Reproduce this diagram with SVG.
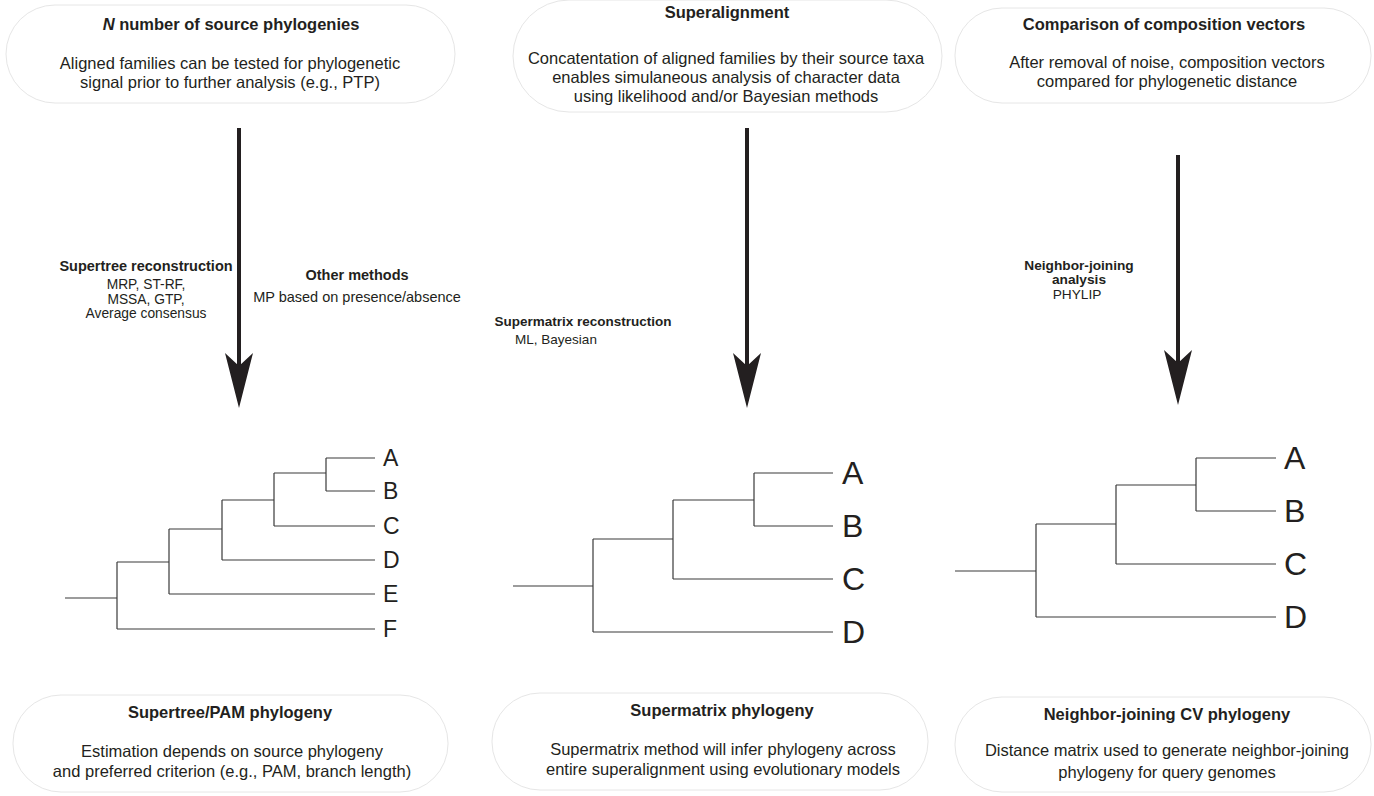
<svg xmlns="http://www.w3.org/2000/svg" width="1374" height="796" viewBox="0 0 1374 796">
<style>
  .pill { fill: #ffffff; stroke: #e6e6e6; stroke-width: 1; }
  .title { font-family: "Liberation Sans", Arial, sans-serif; font-weight: bold; font-size: 16.5px; fill: #231f20; text-anchor: middle; }
  .body { font-family: "Liberation Sans", Arial, sans-serif; font-size: 16.5px; fill: #231f20; text-anchor: middle; }
  .lbl { font-family: "Liberation Sans", Arial, sans-serif; font-weight: bold; font-size: 14.5px; fill: #231f20; text-anchor: middle; }
  .lblr { font-family: "Liberation Sans", Arial, sans-serif; font-size: 14.5px; fill: #231f20; text-anchor: middle; }
  .arrow { stroke: #231f20; stroke-width: 4; fill: none; marker-end: url(#head); }
  .branch { stroke: #3a3a3a; stroke-width: 1.2; fill: none; }
  .taxon { font-family: "Liberation Sans", Arial, sans-serif; fill: #231f20; }
</style>
<defs>
  <marker id="head" markerUnits="userSpaceOnUse" viewBox="0 0 55 28" refX="13" refY="14" markerWidth="55" markerHeight="28" orient="auto">
    <path d="M0,0 L55,14 L0,28 L13,14 Z" fill="#231f20"/>
  </marker>
</defs>
<rect width="1374" height="796" fill="#ffffff"/>

<g id="source-phylogenies">
  <rect class="pill" x="6" y="5" width="449" height="98" rx="49"/>
  <text class="title" x="231" y="30"><tspan font-style="italic">N</tspan> number of source phylogenies</text>
  <text class="body" x="230" y="69">Aligned families can be tested for phylogenetic</text>
  <text class="body" x="230" y="88">signal prior to further analysis (e.g., PTP)</text>
</g>

<g id="superalignment">
  <rect class="pill" x="513" y="0" width="429" height="112" rx="56"/>
  <text class="title" x="727" y="18">Superalignment</text>
  <text class="body" x="726" y="64">Concatentation of aligned families by their source taxa</text>
  <text class="body" x="726" y="83">enables simulaneous analysis of character data</text>
  <text class="body" x="726" y="102">using likelihood and/or Bayesian methods</text>
</g>

<g id="composition-vectors">
  <rect class="pill" x="955" y="8" width="416" height="95" rx="47"/>
  <text class="title" x="1164" y="30">Comparison of composition vectors</text>
  <text class="body" x="1167" y="68">After removal of noise, composition vectors</text>
  <text class="body" x="1167" y="87">compared for phylogenetic distance</text>
</g>

<g id="connectors">
  <line class="arrow" x1="239" y1="128" x2="239" y2="366"/>
  <line class="arrow" x1="747" y1="128" x2="747" y2="366"/>
  <line class="arrow" x1="1178" y1="155" x2="1178" y2="363"/>
</g>

<g id="supertree-label">
  <text class="lbl" x="146" y="271">Supertree reconstruction</text>
  <text class="lblr" x="146" y="289" style="font-size:13.8px">MRP, ST-RF,</text>
  <text class="lblr" x="146" y="304" style="font-size:13.8px">MSSA, GTP,</text>
  <text class="lblr" x="146" y="318" style="font-size:13.8px">Average consensus</text>
</g>

<g id="other-methods-label">
  <text class="lbl" x="357" y="280">Other methods</text>
  <text class="lblr" x="357" y="302">MP based on presence/absence</text>
</g>

<g id="supermatrix-label">
  <text class="lbl" x="583" y="326" style="font-size:13.5px">Supermatrix reconstruction</text>
  <text class="lblr" x="556" y="344" style="font-size:13.5px">ML, Bayesian</text>
</g>

<g id="nj-label">
  <text class="lbl" x="1079" y="270" style="font-size:13.7px">Neighbor-joining</text>
  <text class="lbl" x="1079" y="284" style="font-size:13.7px">analysis</text>
  <text class="lblr" x="1077" y="299" style="font-size:13.7px">PHYLIP</text>
</g>

<g id="supertree-tree">
  <path class="branch" d="M65,598 H117 M117,562 V629 M117,629 H375 M117,562 H169 M169,529 V594 M169,594 H375 M169,529 H222 M222,500 V560 M222,560 H375 M222,500 H274 M274,473 V526 M274,526 H375 M274,473 H326 M326,458 V491 M326,458 H375 M326,491 H375"/>
  <g class="taxon" font-size="23">
    <text x="383" y="466">A</text>
    <text x="383" y="499">B</text>
    <text x="383" y="534">C</text>
    <text x="383" y="568">D</text>
    <text x="383" y="602">E</text>
    <text x="383" y="637">F</text>
  </g>
</g>

<g id="supermatrix-tree">
  <path class="branch" d="M513,586 H593 M593,539 V632 M593,632 H833 M593,539 H673 M673,500 V579 M673,579 H833 M673,500 H754 M754,473 V526 M754,473 H833 M754,526 H833"/>
  <g class="taxon" font-size="32">
    <text x="842" y="484">A</text>
    <text x="842" y="537">B</text>
    <text x="842" y="590">C</text>
    <text x="842" y="643">D</text>
  </g>
</g>

<g id="nj-tree">
  <path class="branch" d="M955,571 H1036 M1036,524 V617 M1036,617 H1276 M1036,524 H1116 M1116,485 V564 M1116,564 H1276 M1116,485 H1196 M1196,458 V511 M1196,458 H1276 M1196,511 H1276"/>
  <g class="taxon" font-size="32">
    <text x="1284" y="469">A</text>
    <text x="1284" y="522">B</text>
    <text x="1284" y="575">C</text>
    <text x="1284" y="628">D</text>
  </g>
</g>

<g id="supertree-phylogeny">
  <rect class="pill" x="13" y="695" width="435" height="97" rx="48"/>
  <text class="title" x="230" y="718">Supertree/PAM phylogeny</text>
  <text class="body" x="232" y="757">Estimation depends on source phylogeny</text>
  <text class="body" x="232" y="777">and preferred criterion (e.g., PAM, branch length)</text>
</g>

<g id="supermatrix-phylogeny">
  <rect class="pill" x="492" y="693" width="436" height="97" rx="48"/>
  <text class="title" x="722" y="716">Supermatrix phylogeny</text>
  <text class="body" x="723" y="755">Supermatrix method will infer phylogeny across</text>
  <text class="body" x="723" y="775">entire superalignment using evolutionary models</text>
</g>

<g id="nj-phylogeny">
  <rect class="pill" x="955" y="697" width="416" height="95" rx="47"/>
  <text class="title" x="1167" y="720">Neighbor-joining CV phylogeny</text>
  <text class="body" x="1167" y="756">Distance matrix used to generate neighbor-joining</text>
  <text class="body" x="1167" y="778">phylogeny for query genomes</text>
</g>
</svg>
